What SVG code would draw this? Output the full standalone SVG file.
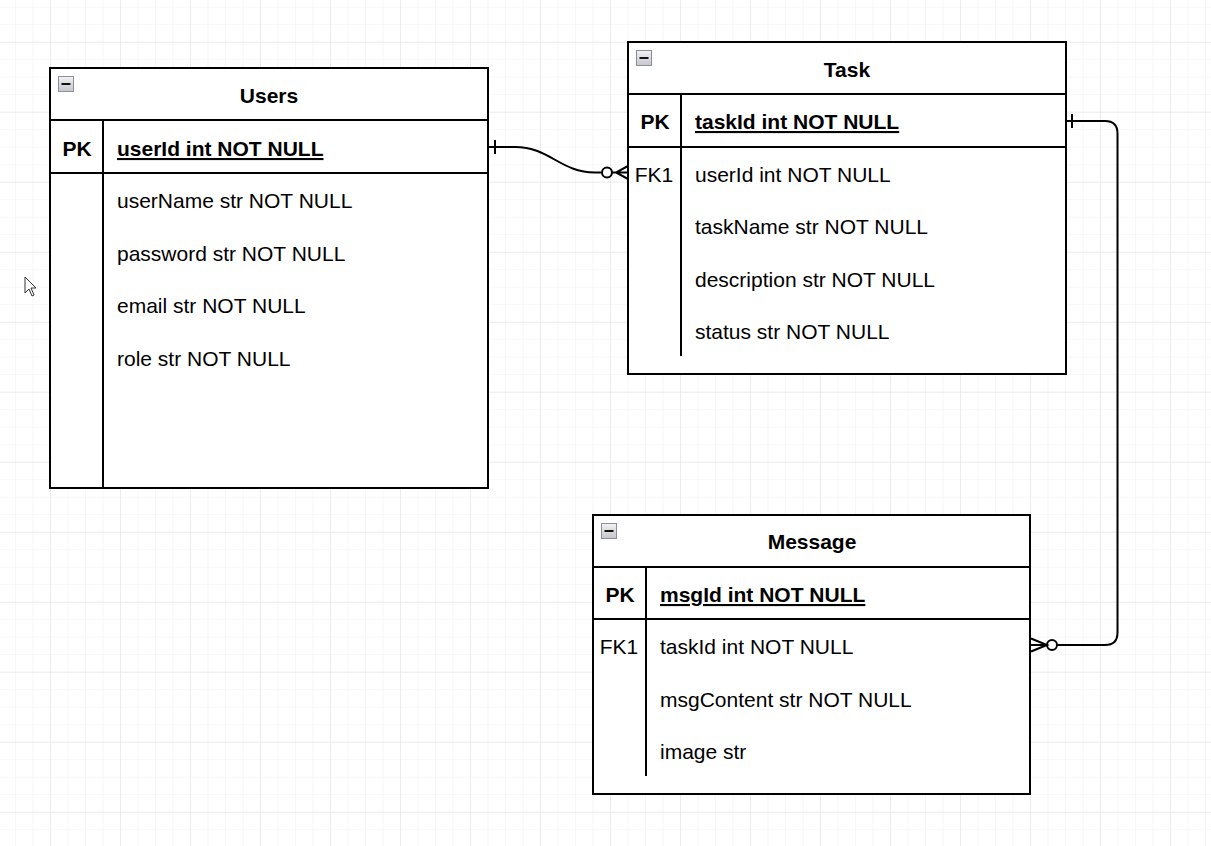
<svg xmlns="http://www.w3.org/2000/svg" width="1211" height="846" viewBox="0 0 1211 846">
<defs>
<pattern id="minor" x="15" y="6.7" width="17.5" height="17.5" patternUnits="userSpaceOnUse">
<path d="M0 0H17.5M0 0V17.5" fill="none" stroke="#efefef" stroke-width="1"/>
</pattern>
<pattern id="major" x="50" y="41.7" width="70" height="70" patternUnits="userSpaceOnUse">
<path d="M0 0H70M0 0V70" fill="none" stroke="#e2e2e2" stroke-width="1"/>
</pattern>
<linearGradient id="ig" x1="0" y1="0" x2="0" y2="1">
<stop offset="0" stop-color="#f2f2f4"/>
<stop offset="1" stop-color="#c4c6cc"/>
</linearGradient>
<g id="minus">
<rect x="0.5" y="0.5" width="15" height="15" fill="url(#ig)" stroke="#8a8f9c" stroke-width="1"/>
<rect x="3.5" y="7" width="9" height="2" fill="#111"/>
</g>
</defs>
<style>
.box{fill:#fff;stroke:#000;stroke-width:2}
.ln{stroke:#000;stroke-width:2;fill:none}
.hd{font-family:"Liberation Sans",Arial,sans-serif;font-size:21px;font-weight:bold;text-anchor:middle;fill:#000}
.pk{font-family:"Liberation Sans",Arial,sans-serif;font-size:21px;font-weight:bold;text-anchor:middle;fill:#000}
.pkf{font-family:"Liberation Sans",Arial,sans-serif;font-size:21px;font-weight:bold;fill:#000;text-decoration:underline}
.fk{font-family:"Liberation Sans",Arial,sans-serif;font-size:21px;text-anchor:middle;fill:#000}
.at{font-family:"Liberation Sans",Arial,sans-serif;font-size:21px;fill:#000}
.cn{stroke:#000;stroke-width:2;fill:none}
</style>
<rect width="1211" height="846" fill="#fff"/>
<rect width="1211" height="846" fill="url(#minor)"/>
<rect width="1211" height="846" fill="url(#major)"/>

<path d="M25 277 V293 L29 289 L32 296 L34 295 L31 288 L36 288 Z" fill="#fff" stroke="#333" stroke-width="1"/>

<g id="users">
<rect class="box" x="50" y="68" width="438" height="420"/>
<line class="ln" x1="50" y1="120" x2="488" y2="120"/>
<line class="ln" x1="50" y1="173" x2="488" y2="173"/>
<line class="ln" x1="103" y1="120" x2="103" y2="488"/>
<use href="#minus" x="58" y="76"/>
<text class="hd" x="269" y="103">Users</text>
<text class="pk" x="77" y="156">PK</text>
<text class="pkf" x="117" y="156">userId int NOT NULL</text>
<text class="at" x="117" y="208">userName str NOT NULL</text>
<text class="at" x="117" y="261">password str NOT NULL</text>
<text class="at" x="117" y="313">email str NOT NULL</text>
<text class="at" x="117" y="366">role str NOT NULL</text>
</g>

<g id="task">
<rect class="box" x="628" y="42" width="438" height="332"/>
<line class="ln" x1="628" y1="94" x2="1066" y2="94"/>
<line class="ln" x1="628" y1="147" x2="1066" y2="147"/>
<line class="ln" x1="681" y1="94" x2="681" y2="356"/>
<use href="#minus" x="636" y="50"/>
<text class="hd" x="847" y="77">Task</text>
<text class="pk" x="655" y="129">PK</text>
<text class="pkf" x="695" y="129">taskId int NOT NULL</text>
<text class="fk" x="654" y="182">FK1</text>
<text class="at" x="695" y="182">userId int NOT NULL</text>
<text class="at" x="695" y="234">taskName str NOT NULL</text>
<text class="at" x="695" y="287">description str NOT NULL</text>
<text class="at" x="695" y="339">status str NOT NULL</text>
</g>

<g id="message">
<rect class="box" x="593" y="515" width="437" height="279"/>
<line class="ln" x1="593" y1="567" x2="1030" y2="567"/>
<line class="ln" x1="593" y1="619" x2="1030" y2="619"/>
<line class="ln" x1="646" y1="567" x2="646" y2="776"/>
<use href="#minus" x="601" y="523"/>
<text class="hd" x="812" y="549">Message</text>
<text class="pk" x="620" y="602">PK</text>
<text class="pkf" x="660" y="602">msgId int NOT NULL</text>
<text class="fk" x="619" y="654">FK1</text>
<text class="at" x="660" y="654">taskId int NOT NULL</text>
<text class="at" x="660" y="707">msgContent str NOT NULL</text>
<text class="at" x="660" y="759">image str</text>
</g>

<g id="connectors">
<path class="cn" d="M488 147 H515 C550 147 560 172.5 595 172.5 H601.5"/>
<line class="cn" x1="495" y1="140" x2="495" y2="154"/>
<circle class="cn" cx="607" cy="172.5" r="5" fill="#fff"/>
<path class="cn" d="M612 172.5 H628 M628 166 L616 172.5 L628 179"/>
<path class="cn" d="M1066 121 H1105 Q1117.5 121 1117.5 133.5 V632.5 Q1117.5 645 1105 645 H1057"/>
<line class="cn" x1="1072" y1="114" x2="1072" y2="128"/>
<circle class="cn" cx="1052" cy="645" r="5" fill="#fff"/>
<path class="cn" d="M1047 645 H1030 M1031 638.5 L1047 645 L1031 651.5"/>
</g>
</svg>
